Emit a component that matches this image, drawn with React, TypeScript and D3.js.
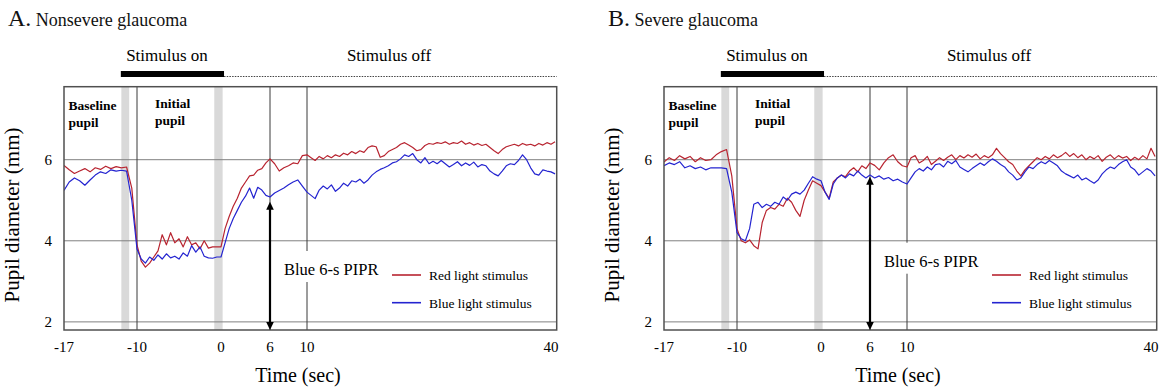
import React, { useEffect, useRef } from 'react';
import * as d3 from 'd3';

// samples every half second starting at -17 s
const T_START = -17;
const T_STEP = 0.5;

const nonsevereRed = [
  5.86, 5.75, 5.66, 5.72, 5.78, 5.70, 5.80, 5.76, 5.84, 5.78, 5.83, 5.80, 5.82,
  5.3, 3.9, 3.5, 3.35, 3.45, 3.6, 3.75, 4.15, 3.9, 4.2, 3.95, 4.05, 3.85, 4.1, 3.9, 3.95, 3.8, 4.0, 3.82, 3.85, 3.85, 3.85,
  4.3, 4.6, 4.85, 5.05, 5.3, 5.45, 5.6, 5.62, 5.74, 5.78, 5.92, 6.02, 5.9, 5.72, 5.8, 5.85, 5.92, 5.9, 6.1, 6.12,
  6.05, 5.98, 6.08, 6.02, 6.1, 6.05, 6.12, 6.08, 6.16, 6.12, 6.2, 6.15, 6.22, 6.18, 6.3, 6.34, 6.32, 6.06, 6.1, 6.2,
  6.25, 6.3, 6.38, 6.42, 6.36, 6.3, 6.22, 6.25, 6.35, 6.4, 6.38, 6.42, 6.4, 6.44, 6.38, 6.42, 6.4, 6.46, 6.38, 6.42,
  6.36, 6.4, 6.35, 6.38, 6.3, 6.22, 6.15, 6.25, 6.32, 6.35, 6.38, 6.34, 6.4, 6.36, 6.38, 6.34, 6.4, 6.36, 6.42, 6.38, 6.44,
];

const nonsevereBlue = [
  5.24, 5.45, 5.55, 5.48, 5.37, 5.5, 5.62, 5.7, 5.66, 5.75, 5.72, 5.74, 5.72,
  5.0, 3.8, 3.55, 3.45, 3.6, 3.52, 3.65, 3.55, 3.68, 3.58, 3.62, 3.55, 3.7, 3.62, 3.88, 3.72, 3.85, 3.62, 3.58, 3.57, 3.6, 3.6,
  3.95, 4.3, 4.55, 4.75, 4.95, 5.1, 5.3, 5.05, 5.32, 5.25, 5.12, 5.08, 5.18, 5.24, 5.3, 5.38, 5.45, 5.5, 5.35, 5.2,
  5.12, 5.04, 5.25, 5.35, 5.28, 5.38, 5.22, 5.3, 5.42, 5.35, 5.48, 5.45, 5.52, 5.42, 5.5, 5.62, 5.7, 5.76, 5.8, 5.85,
  5.92, 5.95, 6.02, 6.12, 6.08, 6.15, 6.0, 5.92, 6.05, 5.9, 5.96, 5.9, 5.98, 5.9, 5.82, 5.88, 5.95, 5.85, 5.92, 5.86,
  5.94, 5.82, 5.88, 5.85, 5.72, 5.65, 5.6, 5.72, 5.85, 5.9, 5.88, 5.98, 6.12, 6.0, 5.8, 5.65, 5.62, 5.75, 5.72, 5.7, 5.65,
];

const severeRed = [
  5.94, 6.05, 5.98, 6.1, 6.02, 6.08, 5.95, 6.05, 5.98, 6.0, 6.12, 6.2, 6.25,
  5.6, 4.3, 4.0, 3.95, 4.02, 3.88, 3.8, 4.45, 4.75, 4.82, 4.78, 4.9, 4.85, 5.05, 4.95, 4.75, 4.6, 5.0, 5.25, 5.48, 5.42, 5.36,
  5.2, 5.05, 5.45, 5.55, 5.62, 5.58, 5.72, 5.8, 5.7, 5.85, 5.78, 5.92, 5.86, 5.75, 5.92, 6.05, 6.12, 5.95, 5.85, 5.82,
  6.05, 6.1, 5.92, 5.98, 6.08, 5.88, 5.96, 6.05, 5.98, 6.06, 6.12, 6.0, 6.1, 6.04, 6.12, 6.06, 6.14, 6.02, 6.1, 6.05,
  6.12, 6.28, 6.15, 6.05, 5.95, 5.88, 5.72, 5.6, 5.75, 5.85, 5.95, 6.05, 6.0, 6.08, 6.02, 6.12, 6.05, 6.1, 6.18, 6.08,
  6.15, 6.05, 6.12, 6.0, 6.08, 6.02, 6.1, 5.96, 6.06, 6.12, 6.02, 6.1, 6.04, 6.08, 5.98, 6.06, 6.0, 6.1, 6.02, 6.28, 6.08,
];

const severeBlue = [
  5.85, 5.92, 5.88, 5.95, 5.8, 5.85, 5.78, 5.82, 5.75, 5.8, 5.8, 5.8, 5.78,
  5.2, 4.2, 4.05, 4.0, 4.3, 4.9, 4.95, 4.82, 4.9, 4.85, 4.95, 4.9, 5.08, 5.0, 5.15, 5.2, 5.15, 5.25, 5.42, 5.58, 5.52, 5.48,
  5.2, 5.02, 5.4, 5.55, 5.62, 5.55, 5.65, 5.6, 5.72, 5.62, 5.55, 5.62, 5.55, 5.6, 5.52, 5.56, 5.48, 5.52, 5.45, 5.4,
  5.55, 5.7, 5.78, 5.72, 5.82, 5.75, 5.88, 5.9, 5.82, 5.96, 5.9, 5.98, 5.82, 5.76, 5.7, 5.78, 5.85, 5.92, 5.86, 5.95,
  6.02, 5.96, 5.88, 5.82, 5.7, 5.62, 5.5, 5.55, 5.7, 5.82, 5.78, 5.88, 5.95, 5.9, 5.98, 5.92, 5.85, 5.72, 5.65, 5.6,
  5.55, 5.62, 5.5, 5.55, 5.48, 5.42, 5.5, 5.65, 5.75, 5.82, 5.78, 5.88, 5.95, 6.0, 5.82, 5.75, 5.62, 5.7, 5.78, 5.72, 5.6,
];

const xTicks = [-17, -10, 0, 6, 10, 40];
const yTicks = [2, 4, 6];
const refLines = [-10, 6, 10];
const blinkBands = [[-11.5, -10.75], [-0.8, 0.2]];
const stimulusOn = [-11.55, 0.37];
const piprTime = 6;
const piprTop = [4.96, 5.58];
const panelLetters = ['A.', 'B.'];
const panelNames = ['Nonsevere glaucoma', 'Severe glaucoma'];
const seriesNames = ['Red light stimulus', 'Blue light stimulus'];
const seriesColors = ['#b82430', '#2424d0'];

export default function App() {
  const ref = useRef<SVGSVGElement>(null);

  useEffect(() => {
    const svg = d3.select(ref.current);
    svg.selectAll('*').remove();

    const font = '"Liberation Serif", "Times New Roman", serif';
    const top = 86.7;
    const bottom = 330;
    const pw = 492.7;
    const panelX = [64, 664];
    const piprLabelY = [275, 266.7];
    // where each tick sits along the panel; the printed time axis is not uniform
    const tickOffsets = [0, 73, 157, 206, 243, 487];

    const times = nonsevereRed.map((_, i) => T_START + i * T_STEP);
    const y = d3.scaleLinear().domain([1.8, 7.8]).range([bottom, top]);

    const panels = [
      { red: nonsevereRed, blue: nonsevereBlue },
      { red: severeRed, blue: severeBlue },
    ];

    panels.forEach((p, k) => {
      const x0 = panelX[k];
      const x = d3.scaleLinear().domain(xTicks).range(tickOffsets.map(o => x0 + o));
      const g = svg.append('g').style('font-family', font);

      const clipId = `clip-${k}`;
      g.append('clipPath').attr('id', clipId)
        .append('rect')
        .attr('x', x0).attr('y', top).attr('width', pw).attr('height', bottom - top);

      // Panel title
      const title = g.append('text').attr('x', x0 - 56).attr('y', 26).attr('fill', '#111');
      title.append('tspan').attr('font-size', 24).text(panelLetters[k]);
      title.append('tspan').attr('font-size', 18).text(' ' + panelNames[k]);

      // Stimulus labels, bar and dotted line
      g.append('text').attr('x', x0 + 103).attr('y', 61).attr('font-size', 17)
        .attr('text-anchor', 'middle').text('Stimulus on');
      g.append('text').attr('x', x0 + 325).attr('y', 61).attr('font-size', 17)
        .attr('text-anchor', 'middle').text('Stimulus off');
      g.append('rect')
        .attr('x', x(stimulusOn[0])).attr('y', 71)
        .attr('width', x(stimulusOn[1]) - x(stimulusOn[0])).attr('height', 6)
        .attr('fill', '#000');
      g.append('line')
        .attr('x1', x(stimulusOn[1])).attr('x2', x0 + pw)
        .attr('y1', 76.5).attr('y2', 76.5)
        .attr('stroke', '#444').attr('stroke-width', 1).attr('stroke-dasharray', '1.5,1.2');

      // Blink bands
      blinkBands.forEach(b => {
        g.append('rect')
          .attr('x', x(b[0])).attr('y', top)
          .attr('width', x(b[1]) - x(b[0])).attr('height', bottom - top)
          .attr('fill', '#d9d9d9');
      });

      // Horizontal grid
      yTicks.forEach(v => {
        g.append('line')
          .attr('x1', x0).attr('x2', x0 + pw).attr('y1', y(v)).attr('y2', y(v))
          .attr('stroke', '#808080').attr('stroke-width', 1);
      });

      // Vertical reference lines
      refLines.forEach(t => {
        g.append('line')
          .attr('x1', x(t)).attr('x2', x(t)).attr('y1', top).attr('y2', bottom)
          .attr('stroke', '#3a3a3a').attr('stroke-width', 1);
      });

      // Region labels
      const lab = (txt: string, lx: number, ly: number) =>
        g.append('text').attr('x', lx).attr('y', ly).attr('font-size', 13.5)
          .attr('font-weight', 'bold').text(txt);
      lab('Baseline', x0 + 4.5, 110);
      lab('pupil', x0 + 4.5, 126.5);
      lab('Initial', x0 + 91, 108);
      lab('pupil', x0 + 91, 125);

      // PIPR label with white box interrupting the 10 s line
      const ly = piprLabelY[k];
      const lx = x0 + 220;
      g.append('rect').attr('x', lx - 2).attr('y', ly - 24).attr('width', 98).attr('height', 31)
        .attr('fill', '#fff');
      g.append('text').attr('x', lx).attr('y', ly).attr('font-size', 16.5).text('Blue 6-s PIPR');

      // Curves
      const line = d3.line<number>()
        .x((_, i) => x(times[i]))
        .y(d => y(d));
      const curves = g.append('g').attr('clip-path', `url(#${clipId})`);
      [p.red, p.blue].forEach((vals, s) => {
        curves.append('path')
          .datum(vals)
          .attr('fill', 'none')
          .attr('stroke', seriesColors[s])
          .attr('stroke-width', 1.2)
          .attr('stroke-linejoin', 'round')
          .attr('d', line);
      });

      // Frame
      g.append('rect')
        .attr('x', x0).attr('y', top).attr('width', pw).attr('height', bottom - top)
        .attr('fill', 'none').attr('stroke', '#505050').attr('stroke-width', 1.5);

      // PIPR double arrow
      const ax = x(piprTime);
      const ay = y(piprTop[k]);
      g.append('line')
        .attr('x1', ax).attr('x2', ax).attr('y1', ay + 6).attr('y2', bottom - 6)
        .attr('stroke', '#000').attr('stroke-width', 2.2);
      g.append('path')
        .attr('d', `M${ax},${ay} L${ax - 3.8},${ay + 8} L${ax + 3.8},${ay + 8} Z`)
        .attr('fill', '#000');
      g.append('path')
        .attr('d', `M${ax},${bottom} L${ax - 3.8},${bottom - 8} L${ax + 3.8},${bottom - 8} Z`)
        .attr('fill', '#000');

      // Legend
      seriesNames.forEach((name, s) => {
        const yy = 275 + s * 27.7;
        g.append('line')
          .attr('x1', x0 + 328).attr('x2', x0 + 357).attr('y1', yy).attr('y2', yy)
          .attr('stroke', seriesColors[s]).attr('stroke-width', 1.6);
        g.append('text').attr('x', x0 + 365).attr('y', yy + 5).attr('font-size', 13.5).text(name);
      });

      // Axis tick labels
      xTicks.forEach(t => {
        g.append('text').attr('x', x(t)).attr('y', 351.7).attr('font-size', 15)
          .attr('text-anchor', 'middle').text(t);
      });
      yTicks.forEach(v => {
        g.append('text').attr('x', x0 - 12).attr('y', y(v) + 5).attr('font-size', 15)
          .attr('text-anchor', 'end').text(v);
      });

      // Axis titles
      g.append('text').attr('x', x0 + 234).attr('y', 381.7).attr('font-size', 20)
        .attr('text-anchor', 'middle').text('Time (sec)');
      g.append('text')
        .attr('transform', `translate(${x0 - 45}, 215) rotate(-90)`)
        .attr('font-size', 21).attr('text-anchor', 'middle').text('Pupil diameter (mm)');
    });
  }, []);

  return (
    <svg
      ref={ref}
      width={1159}
      height={387}
      style={{ position: 'absolute', left: 0, top: 0, background: '#fff' }}
    />
  );
}
